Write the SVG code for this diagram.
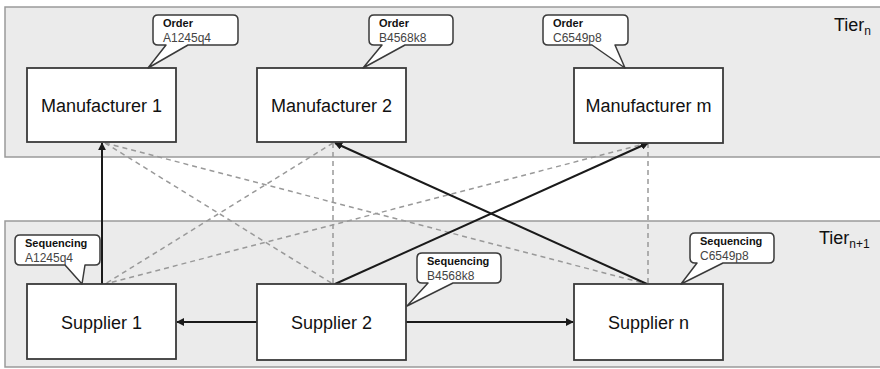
<svg xmlns="http://www.w3.org/2000/svg" width="880" height="369" viewBox="0 0 880 369">
<style>
.band{fill:#ebebeb;stroke:#9a9a9a;stroke-width:1.5}
.node{fill:#fff;stroke:#3a3a3a;stroke-width:1.8}
.lbl{font-family:"Liberation Sans",Arial,sans-serif;font-size:18px;fill:#111;text-anchor:middle}
.tier{font-family:"Liberation Sans",Arial,sans-serif;font-size:18px;fill:#111}
.sub{font-size:12px}
.call{fill:#fff;stroke:#3a3a3a;stroke-width:1.5;stroke-linejoin:round}
.ch{font-family:"Liberation Sans",Arial,sans-serif;font-size:11px;font-weight:bold;fill:#111}
.cc{font-family:"Liberation Sans",Arial,sans-serif;font-size:12px;fill:#444}
.solid{stroke:#1a1a1a;stroke-width:2;fill:none}
.dash{stroke:#999;stroke-width:1.5;stroke-dasharray:5 4;fill:none}
</style>
<defs>
<marker id="arr" viewBox="0 0 10 10" refX="9" refY="5" markerWidth="4" markerHeight="4" orient="auto" markerUnits="strokeWidth">
<path d="M0,0 L10,5 L0,10 z" fill="#1a1a1a"/>
</marker>
</defs>
<rect width="880" height="369" fill="#fff"/>
<g id="tier-n">
<rect class="band" x="5" y="7" width="880" height="150"/>
<text class="tier" x="834" y="31">Tier<tspan class="sub" dy="4">n</tspan></text>
</g>
<g id="tier-n1">
<rect class="band" x="5" y="221" width="880" height="146"/>
<text class="tier" x="819" y="244">Tier<tspan class="sub" dy="4">n+1</tspan></text>
</g>
<g id="connectors">
<line class="dash" x1="105" y1="143" x2="333" y2="284"/>
<line class="dash" x1="105" y1="143" x2="647" y2="284"/>
<line class="dash" x1="333" y1="143" x2="105" y2="284"/>
<line class="dash" x1="333" y1="143" x2="333" y2="284"/>
<line class="dash" x1="648" y1="143" x2="105" y2="284"/>
<line class="dash" x1="648" y1="143" x2="648" y2="284"/>
<line class="solid" x1="102" y1="284" x2="102" y2="143" marker-end="url(#arr)"/>
<line class="solid" x1="335" y1="284" x2="648" y2="143" marker-end="url(#arr)"/>
<line class="solid" x1="647" y1="284" x2="335" y2="143" marker-end="url(#arr)"/>
<line class="solid" x1="257" y1="322" x2="177" y2="322" marker-end="url(#arr)"/>
<line class="solid" x1="406" y1="322" x2="573" y2="322" marker-end="url(#arr)"/>
</g>
<g id="manufacturer-1">
<rect class="node" x="27" y="68" width="149" height="74"/>
<text class="lbl" x="101.5" y="112">Manufacturer 1</text>
</g>
<g id="manufacturer-2">
<rect class="node" x="257" y="68" width="149" height="74"/>
<text class="lbl" x="331.5" y="112">Manufacturer 2</text>
</g>
<g id="manufacturer-m">
<rect class="node" x="574" y="68" width="149" height="75"/>
<text class="lbl" x="648.5" y="112">Manufacturer m</text>
</g>
<g id="supplier-1">
<rect class="node" x="27" y="284" width="149" height="75"/>
<text class="lbl" x="101.5" y="329">Supplier 1</text>
</g>
<g id="supplier-2">
<rect class="node" x="257" y="284" width="149" height="76"/>
<text class="lbl" x="331.5" y="329">Supplier 2</text>
</g>
<g id="supplier-n">
<rect class="node" x="574" y="284" width="149" height="76"/>
<text class="lbl" x="648.5" y="329">Supplier n</text>
</g>
<g id="order-a">
<path class="call" d="M158,15 H233 Q238,15 238,20 V40 Q238,45 233,45 H188 L148,68 L166,45 H158 Q153,45 153,40 V20 Q153,15 158,15 Z"/>
<text class="ch" x="163" y="27">Order</text>
<text class="cc" x="163" y="42">A1245q4</text>
</g>
<g id="order-b">
<path class="call" d="M374,15 H448 Q453,15 453,20 V40 Q453,45 448,45 H405 L363,68 L382,45 H374 Q369,45 369,40 V20 Q369,15 374,15 Z"/>
<text class="ch" x="379" y="27">Order</text>
<text class="cc" x="379" y="42">B4568k8</text>
</g>
<g id="order-c">
<path class="call" d="M548,15 H623 Q628,15 628,20 V40 Q628,45 623,45 H615 L625,68 L592,45 H548 Q543,45 543,40 V20 Q543,15 548,15 Z"/>
<text class="ch" x="553" y="27">Order</text>
<text class="cc" x="553" y="42">C6549p8</text>
</g>
<g id="seq-a">
<path class="call" d="M20,235 H95 Q100,235 100,240 V260 Q100,265 95,265 H85 L82,284 L65,265 H20 Q15,265 15,260 V240 Q15,235 20,235 Z"/>
<text class="ch" x="25" y="247">Sequencing</text>
<text class="cc" x="25" y="262">A1245q4</text>
</g>
<g id="seq-b">
<path class="call" d="M422,253 H496 Q501,253 501,258 V278 Q501,283 496,283 H453 L407,306 L428,283 H422 Q417,283 417,278 V258 Q417,253 422,253 Z"/>
<text class="ch" x="427" y="265">Sequencing</text>
<text class="cc" x="427" y="280">B4568k8</text>
</g>
<g id="seq-c">
<path class="call" d="M695,233 H769 Q774,233 774,238 V258 Q774,263 769,263 H723 L681,284 L697,263 H695 Q690,263 690,258 V238 Q690,233 695,233 Z"/>
<text class="ch" x="700" y="245">Sequencing</text>
<text class="cc" x="700" y="260">C6549p8</text>
</g>
</svg>
